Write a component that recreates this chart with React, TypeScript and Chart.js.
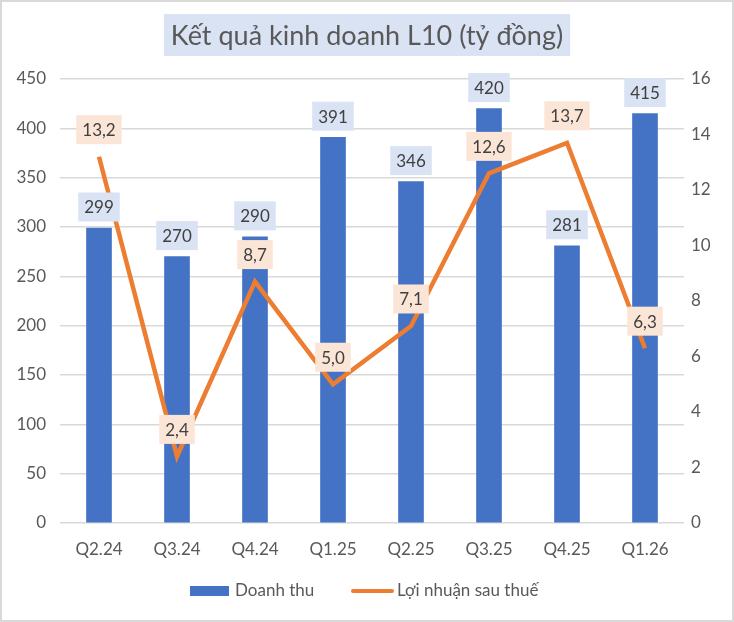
import React, { useRef, useEffect } from 'react';
import { Chart, registerables, Plugin } from 'chart.js';

Chart.register(...registerables);

const categories = ['Q2.24', 'Q3.24', 'Q4.24', 'Q1.25', 'Q2.25', 'Q3.25', 'Q4.25', 'Q1.26'];
const revenue = [299, 270, 290, 391, 346, 420, 281, 415];
const profit = [13.2, 2.4, 8.7, 5.0, 7.1, 12.6, 13.7, 6.3];
const titleText = 'Kết quả kinh doanh L10 (tỷ đồng)';
const revenueLabel = 'Doanh thu';
const profitLabel = 'Lợi nhuận sau thuế';

const FONT = 'Lato, "Open Sans", sans-serif';
const BLUE = '#4472C4';
const ORANGE = '#ED7D31';
const GREY_TEXT = '#595959';

const fmt = (v: number, dec: number) => v.toFixed(dec).replace('.', ',');

// title box, labels with backgrounds, legend and frame
const decorPlugin: Plugin = {
  id: 'decor',
  beforeDraw(chart) {
    const ctx = chart.ctx;
    ctx.save();
    ctx.fillStyle = '#ffffff';
    ctx.fillRect(0, 0, chart.width, chart.height);
    ctx.strokeStyle = '#D9D9D9';
    ctx.lineWidth = 2;
    ctx.strokeRect(1, 1, chart.width - 2, chart.height - 2);

    // title
    ctx.font = `27px ${FONT}`;
    const tw = ctx.measureText(titleText).width;
    const cx = 367;
    ctx.fillStyle = '#DAE3F3';
    ctx.fillRect(cx - tw / 2 - 7, 14, tw + 14, 42);
    ctx.fillStyle = GREY_TEXT;
    ctx.textAlign = 'center';
    ctx.textBaseline = 'middle';
    ctx.fillText(titleText, cx, 36);
    ctx.restore();
  },
  afterDatasetsDraw(chart) {
    const ctx = chart.ctx;
    ctx.save();
    ctx.font = `17px ${FONT}`;
    ctx.textAlign = 'center';
    ctx.textBaseline = 'middle';
    const drawLabel = (text: string, x: number, cy: number, bg: string) => {
      const w = ctx.measureText(text).width + 12;
      const h = 29;
      ctx.fillStyle = bg;
      ctx.fillRect(x - w / 2, cy - h / 2, w, h);
      ctx.fillStyle = '#404040';
      ctx.fillText(text, x, cy + 1);
    };
    chart.getDatasetMeta(0).data.forEach((el, i) => {
      drawLabel(fmt(revenue[i], 0), el.x, el.y - 21, '#DAE3F3');
    });
    chart.getDatasetMeta(1).data.forEach((el, i) => {
      drawLabel(fmt(profit[i], 1), el.x, el.y - 27, '#FBE5D6');
    });

    // legend
    ctx.font = `17px ${FONT}`;
    ctx.textAlign = 'left';
    ctx.fillStyle = BLUE;
    ctx.fillRect(190, 586, 39, 10);
    ctx.fillStyle = GREY_TEXT;
    ctx.fillText(revenueLabel, 235, 591);
    ctx.strokeStyle = ORANGE;
    ctx.lineWidth = 4;
    ctx.lineCap = 'round';
    ctx.beginPath();
    ctx.moveTo(353, 591);
    ctx.lineTo(392, 591);
    ctx.stroke();
    ctx.fillText(profitLabel, 397, 591);
    ctx.restore();
  },
};

const App: React.FC = () => {
  const chartRef = useRef<HTMLCanvasElement | null>(null);
  const chartInstanceRef = useRef<Chart | null>(null);

  useEffect(() => {
    if (!chartRef.current) return;
    const ctx = chartRef.current.getContext('2d');
    if (!ctx) return;
    if (chartInstanceRef.current) chartInstanceRef.current.destroy();

    chartInstanceRef.current = new Chart(ctx, {
      type: 'bar',
      data: {
        labels: categories,
        datasets: [
          {
            type: 'bar',
            label: revenueLabel,
            data: revenue,
            backgroundColor: BLUE,
            barThickness: 25,
            yAxisID: 'y',
            order: 2,
          },
          {
            type: 'line',
            label: profitLabel,
            data: profit,
            borderColor: ORANGE,
            borderWidth: 4.5,
            pointRadius: 0,
            tension: 0,
            yAxisID: 'y1',
            order: 1,
          },
        ],
      },
      options: {
        animation: false,
        responsive: true,
        maintainAspectRatio: false,
        layout: { padding: { top: 79, left: 0, right: 0, bottom: 0 } },
        plugins: {
          legend: { display: false },
          title: { display: false },
          tooltip: { enabled: false },
        },
        scales: {
          x: {
            grid: { display: false, drawTicks: false },
            border: { display: false },
            ticks: { color: GREY_TEXT, font: { family: FONT, size: 17 }, padding: 16 },
            afterFit: (s: any) => {
              s.height = 99;
            },
          },
          y: {
            position: 'left',
            min: 0,
            max: 450,
            ticks: { stepSize: 50, color: GREY_TEXT, font: { family: FONT, size: 17 }, padding: 14 },
            grid: { color: '#D9D9D9', lineWidth: 1.5, drawTicks: false },
            border: { display: false },
            afterFit: (s: any) => {
              s.width = 60;
            },
          },
          y1: {
            position: 'right',
            min: 0,
            max: 16,
            ticks: { stepSize: 2, color: GREY_TEXT, font: { family: FONT, size: 17 }, padding: 7 },
            grid: { display: false, drawTicks: false },
            border: { display: false },
            afterFit: (s: any) => {
              s.width = 50;
            },
          },
        },
      },
      plugins: [decorPlugin],
    });

    return () => {
      if (chartInstanceRef.current) {
        chartInstanceRef.current.destroy();
        chartInstanceRef.current = null;
      }
    };
  }, []);

  return (
    <div style={{ position: 'fixed', left: 0, top: 0, width: '734px', height: '622px' }}>
      <canvas ref={chartRef} />
    </div>
  );
};

export default App;
